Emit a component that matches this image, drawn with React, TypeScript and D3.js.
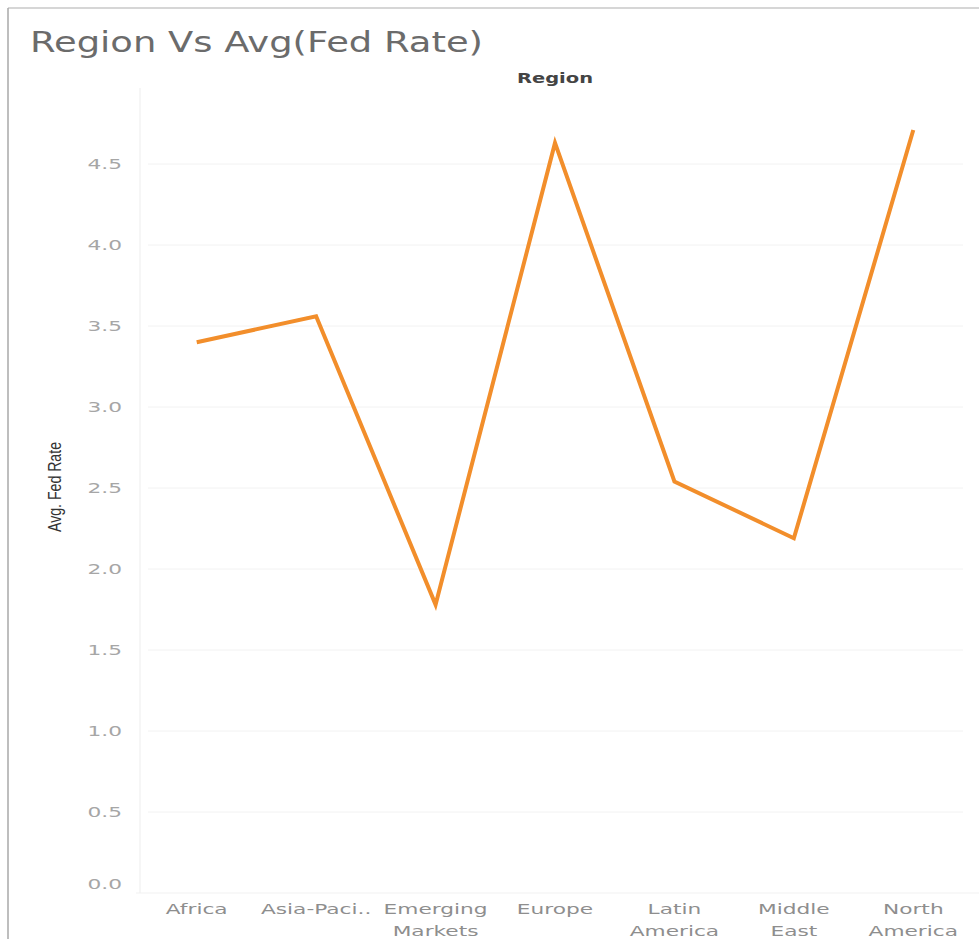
import React from "react";
import * as d3 from "d3";

// Average Fed rate per region
const regions: string[][] = [
  ["Africa"],
  ["Asia-Paci.."],
  ["Emerging", "Markets"],
  ["Europe"],
  ["Latin", "America"],
  ["Middle", "East"],
  ["North", "America"],
];
const avgFedRate: number[] = [3.4, 3.56, 1.78, 4.63, 2.54, 2.19, 4.71];
const yTicks: number[] = [0, 0.5, 1, 1.5, 2, 2.5, 3, 3.5, 4, 4.5];

const W = 979;
const H = 939;
const paneLeft = 140;
const paneTop = 88;
const paneBottom = 893;
const bandStart = 137;
const bandEnd = 973;

export default function App() {
  const keys = regions.map((r) => r.join(" "));
  const x = d3.scaleBand<string>().domain(keys).range([bandStart, bandEnd]).padding(0);
  const y = d3.scaleLinear().domain([0, 4.5]).range([paneBottom, 164]);

  const line = d3
    .line<number>()
    .x((_, i) => (x(keys[i]) as number) + x.bandwidth() / 2)
    .y((d) => y(d));

  // the worksheet font is set wide, so labels are stretched horizontally
  const tickSx = 1.55;
  const labelSx = 1.55;

  return (
    <svg
      width={W}
      height={H}
      style={{ position: "absolute", left: 0, top: 0, background: "#fff" }}
    >
      {/* frame */}
      <line x1={8} y1={8} x2={W} y2={8} stroke="#c8c8c8" strokeWidth={1.5} />
      <line x1={8} y1={8} x2={8} y2={H} stroke="#a8a8a8" strokeWidth={1.5} />

      {/* title */}
      <text
        x={30}
        y={52}
        fontFamily="DejaVu Sans, sans-serif"
        fontSize={28}
        fill="#6b6b6b"
        textLength={453}
        lengthAdjust="spacingAndGlyphs"
      >
        Region Vs Avg(Fed Rate)
      </text>

      {/* column header */}
      <text
        x={555}
        y={83}
        textAnchor="middle"
        fontFamily="DejaVu Sans, sans-serif"
        fontSize={14}
        fontWeight="bold"
        fill="#444"
        textLength={76}
        lengthAdjust="spacingAndGlyphs"
      >
        Region
      </text>

      {/* pane edge and gridlines */}
      <line x1={paneLeft} y1={paneTop} x2={paneLeft} y2={paneBottom} stroke="#ededed" strokeWidth={1} />
      <line x1={paneLeft - 4} y1={paneBottom} x2={W} y2={paneBottom} stroke="#f1f1f1" strokeWidth={1} />
      {yTicks
        .filter((t) => t > 0)
        .map((t) => (
          <line key={t} x1={148} x2={963} y1={y(t)} y2={y(t)} stroke="#f2f2f2" strokeWidth={1} />
        ))}

      {/* y tick labels */}
      {yTicks.map((t) => {
        const ty = t === 0 ? y(t) - 9 : y(t);
        return (
          <text
            key={t}
            transform={`translate(122,${ty + 5}) scale(${tickSx},1)`}
            textAnchor="end"
            fontFamily="DejaVu Sans, sans-serif"
            fontSize={14}
            fill="#a6a6a6"
          >
            {d3.format(".1f")(t)}
          </text>
        );
      })}

      {/* y axis title */}
      <text
        transform={`translate(61,487) rotate(-90)`}
        textAnchor="middle"
        fontFamily="Liberation Sans Narrow, Liberation Sans, sans-serif"
        fontSize={18}
        fill="#333"
        textLength={90}
        lengthAdjust="spacingAndGlyphs"
      >
        Avg. Fed Rate
      </text>

      {/* x category labels */}
      {regions.map((r, i) => {
        const cx = (x(keys[i]) as number) + x.bandwidth() / 2;
        return r.map((part, j) => (
          <text
            key={`${i}-${j}`}
            transform={`translate(${cx},${914 + j * 22}) scale(${labelSx},1)`}
            textAnchor="middle"
            fontFamily="DejaVu Sans, sans-serif"
            fontSize={14}
            fill="#8e8e8e"
          >
            {part}
          </text>
        ));
      })}

      {/* line */}
      <path
        d={line(avgFedRate) || ""}
        fill="none"
        stroke="#f28e2b"
        strokeWidth={4}
        strokeLinejoin="miter"
        strokeLinecap="butt"
      />
    </svg>
  );
}
